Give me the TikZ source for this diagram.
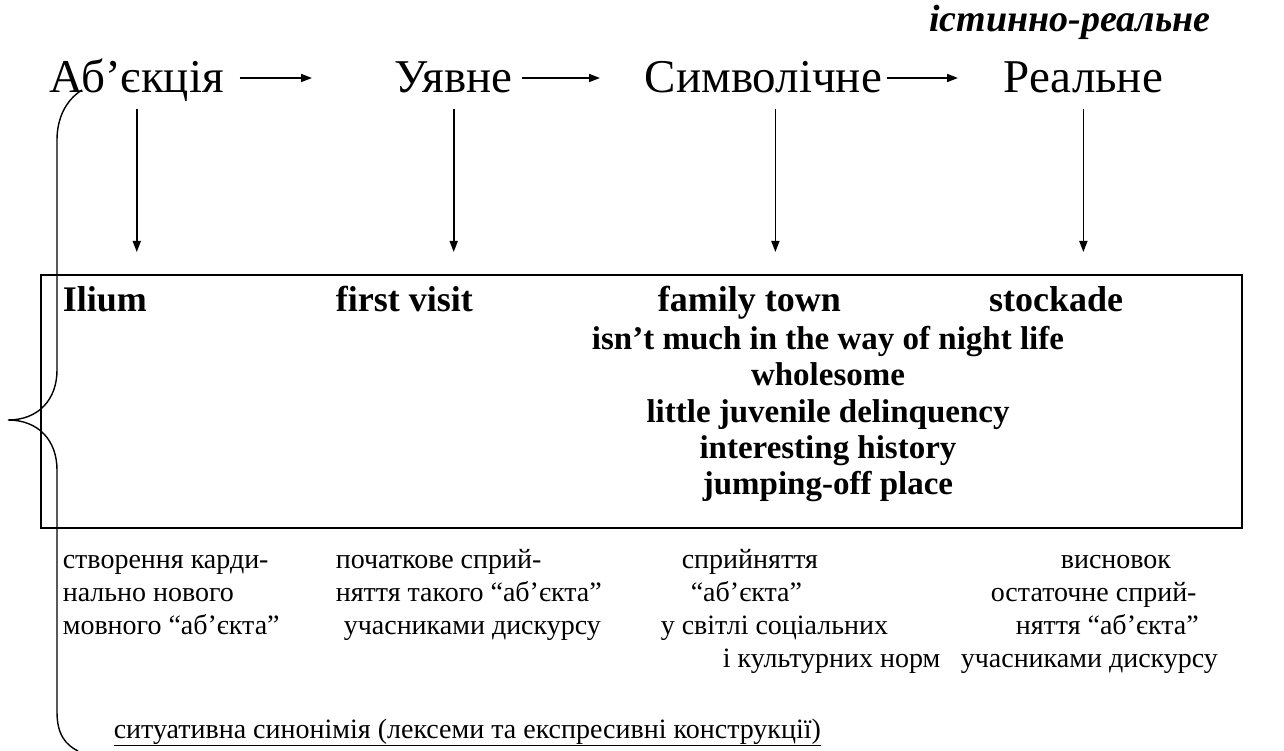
\documentclass[tikz,border=0pt]{standalone}
\usepackage{fontspec}
\setmainfont{Liberation Serif}
\usetikzlibrary{arrows.meta}
\begin{document}
\begin{tikzpicture}[x=1pt,y=-1pt,line width=1.6pt,>={Triangle[length=11pt,width=8pt]},
  word/.style={font=\fontsize{47}{56}\selectfont,inner sep=0pt,text height=30pt,text depth=0pt,anchor=base west},
  head/.style={font=\bfseries\fontsize{36}{42}\selectfont,inner sep=0pt,anchor=base west},
  line/.style={font=\bfseries\fontsize{33}{38}\selectfont,inner sep=0pt,anchor=base},
  note/.style={font=\fontsize{28}{33}\selectfont,inner sep=0pt,anchor=base west}]
\useasboundingbox (0,0) rectangle (1284,751);
\node[word] (abj) at (49,93) {Аб’єкція};
\node[word] (uyav) at (394,93) {Уявне};
\node[word] (symv) at (644,93) {Символічне};
\node[word] (real) at (1003,93) {Реальне};
\node[font=\bfseries\itshape\fontsize{38}{44}\selectfont,inner sep=0pt,anchor=base] (ist) at (1070,32) {істинно-реальне};
\draw[->,shorten <=15pt,shorten >=82pt] (abj.east) -- (uyav.west);
\draw[->,shorten <=9pt,shorten >=44pt] (uyav.east) -- (symv.west);
\draw[->,shorten <=4pt,shorten >=45pt] (symv.east) -- (real.west);
\node[draw,inner sep=0pt,outer sep=0pt,minimum width=1201pt,minimum height=253pt] (box) at (641.5,401.5) {};
\draw[->,shorten <=15pt,shorten >=23pt] (abj.south) -- (abj.south |- box.north);
\draw[->,shorten <=15pt,shorten >=23pt] (uyav.south) -- (uyav.south |- box.north);
\draw[->,shorten <=15pt,shorten >=23pt] ([xshift=12pt]symv.south) -- ([xshift=12pt]symv.south |- box.north);
\draw[->,shorten <=15pt,shorten >=23pt] (real.south) -- (real.south |- box.north);
\node[head] (ilium) at (62,311) {Ilium};
\node[head] (visit) at (335,311) {first visit};
\node[head] (town) at (657,311) {family town};
\node[head,anchor=base east] (stock) at (1124,311) {stockade};
\node[line] (night) at (828,349) {isn’t much in the way of night life};
\node[line] (whole) at (828,385) {wholesome};
\node[line] (juv) at (828,422) {little juvenile delinquency};
\node[line] (hist) at (828,458) {interesting history};
\node[line] (jump) at (828,494) {jumping-off place};
\node[note] (a1) at (62,568) {створення карди-};
\node[note] (a2) at (62,601) {нально нового};
\node[note] (a3) at (62,634) {мовного “аб’єкта”};
\node[note] (b1) at (335,568) {початкове сприй-};
\node[note] (b2) at (335,601) {няття такого “аб’єкта”};
\node[note] (b3) at (343,634) {учасниками дискурсу};
\node[note] (c1) at (681,568) {сприйняття};
\node[note] (c2) at (690,601) {“аб’єкта”};
\node[note] (c3) at (660,634) {у світлі соціальних};
\node[note] (c4) at (722,667) {і культурних норм};
\node[note] (d1) at (1060,568) {висновок};
\node[note] (d2) at (990,601) {остаточне сприй-};
\node[note] (d3) at (1015,634) {няття “аб’єкта”};
\node[note] (d4) at (960,667) {учасниками дискурсу};
\node[note] (syn) at (113,738) {\underline{ситуативна синонімія (лексеми та експресивні конструкції)}};
\draw[line width=1.4pt] (82,90) .. controls (66,100) and (57,118) .. (57,140) -- (57,370)
  .. controls (57,400) and (38,420) .. (8,420) .. controls (38,420) and (57,440) .. (57,470)
  -- (57,712) .. controls (57,735) and (66,745) .. (78,751);
\end{tikzpicture}
\end{document}
